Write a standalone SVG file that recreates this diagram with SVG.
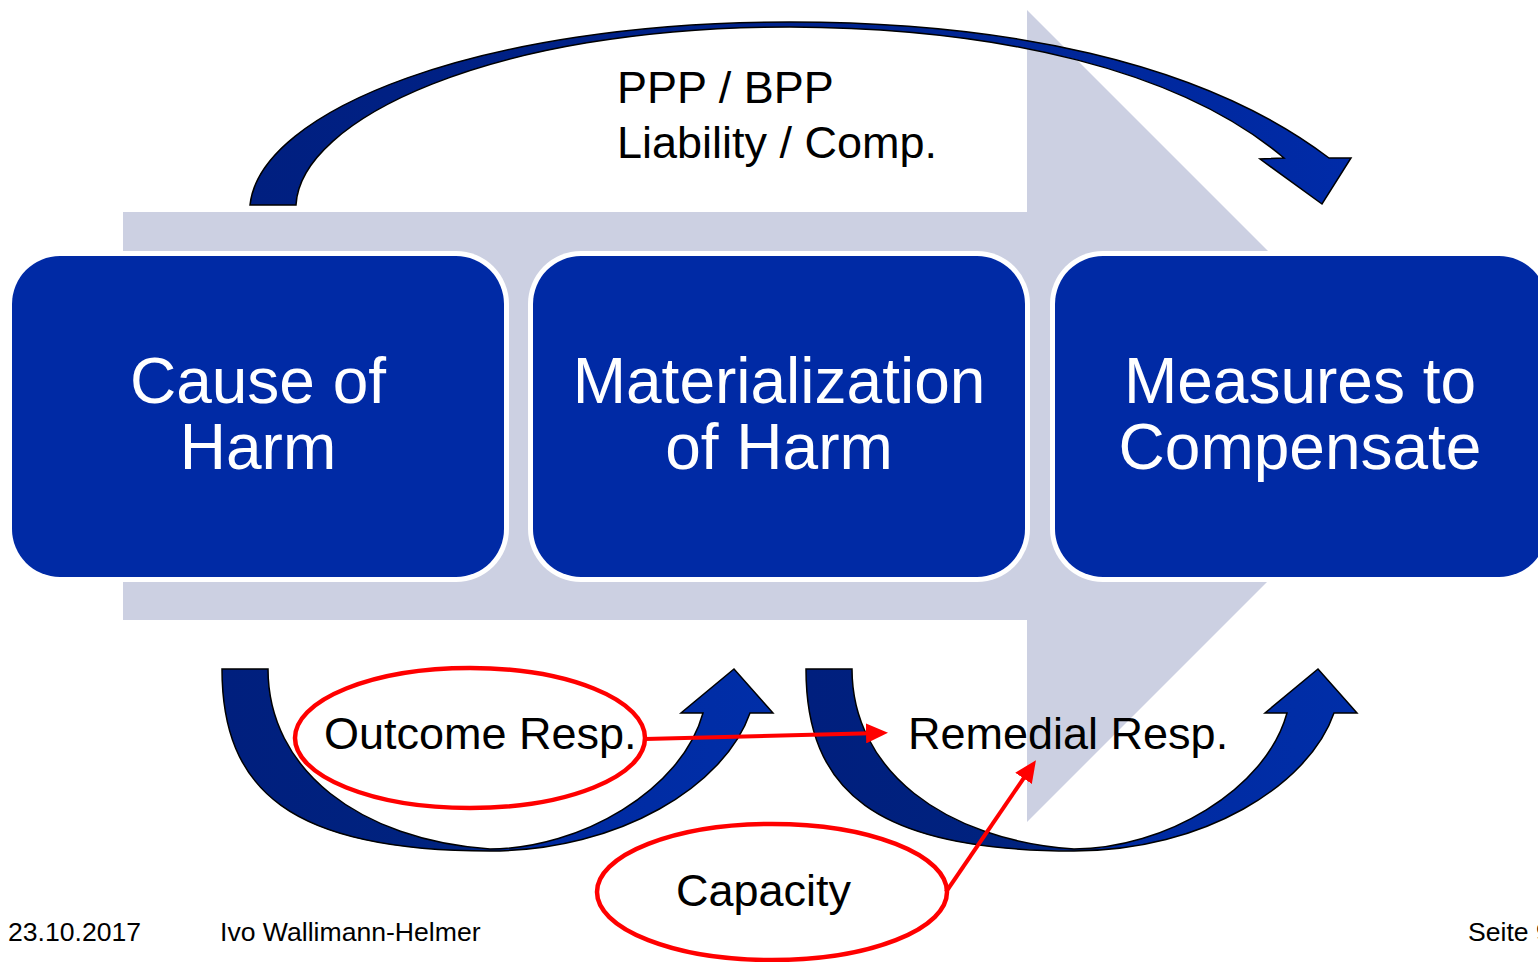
<svg xmlns="http://www.w3.org/2000/svg" width="1538" height="962" viewBox="0 0 1538 962">
<defs>
<style>
.box{fill:#002AA5}
.boxb{fill:#FFFFFF}
.bt{font-family:"Liberation Sans",Arial,sans-serif;font-size:64px;fill:#FFFFFF;text-anchor:middle}
.lbl{font-family:"Liberation Sans",Arial,sans-serif;font-size:45px;fill:#000000}
.ft{font-family:"Liberation Sans",Arial,sans-serif;font-size:26.6px;fill:#000000}
.curve{stroke:#000000;stroke-width:1.5;stroke-linejoin:miter}
.ring{fill:none;stroke:#FF0000;stroke-width:4.5}
.red{fill:none;stroke:#FF0000;stroke-width:4}
</style>
<linearGradient id="gTop" x1="250" y1="0" x2="1352" y2="0" gradientUnits="userSpaceOnUse">
<stop offset="0" stop-color="#001F80"/>
<stop offset="0.5" stop-color="#00238C"/>
<stop offset="1" stop-color="#002BA8"/>
</linearGradient>
<linearGradient id="gBot" x1="222" y1="0" x2="773" y2="0" gradientUnits="userSpaceOnUse">
<stop offset="0" stop-color="#001F7E"/>
<stop offset="0.45" stop-color="#00237F"/>
<stop offset="0.55" stop-color="#002AA0"/>
<stop offset="1" stop-color="#002EA8"/>
</linearGradient>
<marker id="ah" markerUnits="userSpaceOnUse" markerWidth="22" markerHeight="20" refX="15" refY="10" orient="auto">
<path d="M0,0 L22,10 L0,20 Z" fill="#FF0000"/>
</marker>
</defs>
<rect width="1538" height="962" fill="#FFFFFF"/>
<g id="bg-arrow">
<polygon points="123,212 1027,212 1027,10 1433,416 1027,822 1027,620 123,620" fill="#CCD0E2"/>
</g>
<g id="node-cause">
<rect class="boxb" x="7" y="251" width="502" height="331" rx="53"/>
<rect class="box" x="12" y="256" width="492" height="321" rx="48"/>
<text class="bt" x="258" y="403">Cause of</text>
<text class="bt" x="258" y="469">Harm</text>
</g>
<g id="node-materialization">
<rect class="boxb" x="528" y="251" width="502" height="331" rx="53"/>
<rect class="box" x="533" y="256" width="492" height="321" rx="48"/>
<text class="bt" x="779" y="403">Materialization</text>
<text class="bt" x="779" y="469">of Harm</text>
</g>
<g id="node-measures">
<rect class="boxb" x="1050" y="251" width="502" height="331" rx="53"/>
<rect class="box" x="1055" y="256" width="492" height="321" rx="48"/>
<text class="bt" x="1300" y="403">Measures to</text>
<text class="bt" x="1300" y="469">Compensate</text>
</g>
<g id="connectors">
<path class="curve" fill="url(#gTop)" d="M250,205 C260,110 480,22 790,22 C1000,22 1200,60 1329,158 L1351,158 L1322,204 L1260,159 L1284,158 C1180,70 1000,28 790,27 C490,27 300,120 296,205 Z"/>
<path class="curve" fill="url(#gBot)" d="M222,669 C222,790 290,851 490,851 C620,851 725,785 750,713 L773,713 L734,669 L681,713 L703,713 C682,790 580,849 490,849 C360,840 268,770 268,669 Z"/>
<path class="curve" fill="url(#gBot)" transform="translate(584,0)" d="M222,669 C222,790 290,851 490,851 C620,851 725,785 750,713 L773,713 L734,669 L681,713 L703,713 C682,790 580,849 490,849 C360,840 268,770 268,669 Z"/>
<line class="red" x1="645" y1="739" x2="881" y2="733" marker-end="url(#ah)"/>
<line class="red" x1="946" y1="892" x2="1032" y2="766" marker-end="url(#ah)"/>
</g>
<g id="label-top">
<text class="lbl" x="617" y="103">PPP / BPP</text>
<text class="lbl" x="617" y="158">Liability / Comp.</text>
</g>
<g id="node-outcome">
<ellipse class="ring" cx="470" cy="738" rx="175" ry="70"/>
<text class="lbl" x="324" y="749">Outcome Resp.</text>
</g>
<g id="node-remedial">
<text class="lbl" x="908" y="749">Remedial Resp.</text>
</g>
<g id="node-capacity">
<ellipse class="ring" cx="772" cy="892" rx="175" ry="68"/>
<text class="lbl" x="676" y="906">Capacity</text>
</g>
<g id="footer">
<text class="ft" x="8" y="941">23.10.2017</text>
<text class="ft" x="220" y="941">Ivo Wallimann-Helmer</text>
<text class="ft" x="1468" y="941">Seite 9</text>
</g>
</svg>
